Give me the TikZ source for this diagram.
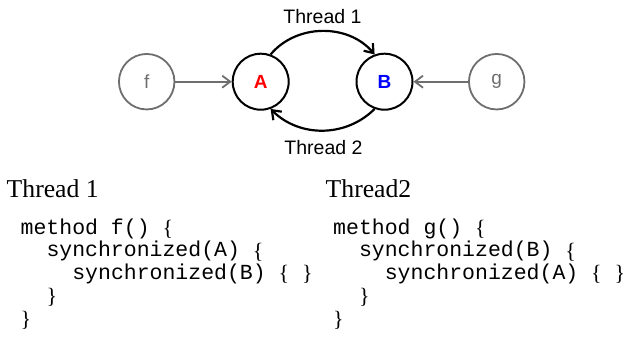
\documentclass[tikz,border=0pt]{standalone}
\usepackage{fontspec}
\setmainfont{Liberation Serif}
\setsansfont{Liberation Sans}
\setmonofont{Liberation Mono}
\usetikzlibrary{arrows.meta}
\definecolor{greyline}{HTML}{6E6E6E}
\newcommand\bracefont{\rmfamily\fontsize{22}{22}\selectfont}
\newcommand\lbr{\smash{\raisebox{-1.5pt}{\bracefont\{}}}
\newcommand\rbr{\smash{\raisebox{-1.5pt}{\bracefont\}}}}
\tikzset{
  lock/.style={circle, draw=black, line width=2pt, minimum size=56pt, inner sep=0pt,
    font=\sffamily\bfseries\fontsize{19}{22}\selectfont},
  meth/.style={circle, draw=greyline, line width=1.8pt, minimum size=55.5pt, inner sep=0pt,
    text=greyline, font=\sffamily\fontsize{19}{22}\selectfont},
  greyarrow/.style={draw=greyline, line width=1.8pt, -{Straight Barb[length=8pt,width=12pt]}},
  bentarrow/.style={draw=black, line width=2.2pt, -{Straight Barb[length=8pt,width=12pt]}},
  edgelabel/.style={font=\sffamily\fontsize{19.5}{22}\selectfont},
  heading/.style={anchor=base west, inner sep=0pt, font=\rmfamily\fontsize{25.7}{28}\selectfont},
  codeline/.style={anchor=base west, inner sep=0pt, font=\ttfamily\fontsize{21.5}{23}\selectfont},
}
\begin{document}
\begin{tikzpicture}[x=1pt,y=-1pt]
\useasboundingbox (0,0) rectangle (625,343);
\node[meth] (f) at (146.7,81.7) {f};
\node[lock, text=red] (A) at (260.7,81.7) {A};
\node[lock, text=blue] (B) at (384.5,81.7) {B};
\node[meth] (g) at (496.7,81.7) {g};
\draw[greyarrow] (f) -- (A);
\draw[greyarrow] (g) -- (B);
\draw[bentarrow] (A.70) to[out=50,in=130] (B.110);
\draw[bentarrow] (B.-110) to[out=-135,in=-45] (A.-70);
\node[edgelabel] (t1) at (322.5,16.5) {Thread 1};
\node[edgelabel] (t2) at (323.5,147.5) {Thread 2};
% left column
\node[heading] (h1) at (6.5,197.5) {Thread 1};
\node[codeline] (l1) at (20.5,234) {method f() \lbr};
\node[codeline] (l2) at (46.3,256.5) {synchronized(A) \lbr};
\node[codeline] (l3) at (72.1,279) {synchronized(B) \lbr\ \rbr};
\node[codeline] (l4) at (46.3,302) {\rbr};
\node[codeline] (l5) at (20.5,325) {\rbr};
% right column
\node[heading] (h2) at (325.5,197.5) {Thread2};
\node[codeline] (r1) at (333,234) {method g() \lbr};
\node[codeline] (r2) at (358.8,256.5) {synchronized(B) \lbr};
\node[codeline] (r3) at (384.6,279) {synchronized(A) \lbr\ \rbr};
\node[codeline] (r4) at (358.8,302) {\rbr};
\node[codeline] (r5) at (333,325) {\rbr};
\end{tikzpicture}
\end{document}
